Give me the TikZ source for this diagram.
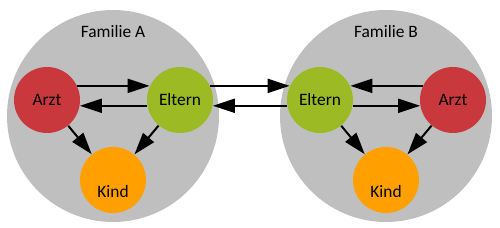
\documentclass[tikz,border=0pt]{standalone}
\usepackage{fontspec}
\setmainfont{Carlito}
\usetikzlibrary{arrows.meta}
\definecolor{famgray}{HTML}{BFBFBF}
\definecolor{arztred}{HTML}{C8383C}
\definecolor{elterngreen}{HTML}{9CBA24}
\definecolor{kindorange}{HTML}{FFA000}
\tikzset{
  fam/.style={circle, fill=famgray, minimum size=106pt, inner sep=0pt},
  person/.style={circle, minimum size=33pt, inner sep=0pt, font=\fontsize{8.7}{10}\selectfont},
  arzt/.style={person, fill=arztred},
  eltern/.style={person, fill=elterngreen},
  kind/.style={person, fill=kindorange},
  famlabel/.style={font=\fontsize{8.7}{10}\selectfont, inner sep=0pt},
  conn/.style={line width=1pt, -{Triangle[length=11pt,width=7pt]}}
}
\begin{document}
\begin{tikzpicture}[x=0.5pt, y=-0.5pt]
\useasboundingbox (0,0) rectangle (500,228);
% families
\node[fam] (famA) at (113,116) {};
\node[fam] (famB) at (386,116) {};
\node[famlabel] (labA) at (113,32) {Familie A};
\node[famlabel] (labB) at (386,32) {Familie B};
% persons A
\node[arzt] (arztA) at (47,100) {Arzt};
\node[eltern] (eltA) at (180,100) {Eltern};
\node[kind, label={[font=\fontsize{8.7}{10}\selectfont, yshift=-6pt]center:Kind}] (kindA) at (113,180) {};
% persons B
\node[eltern] (eltB) at (320,100) {Eltern};
\node[arzt] (arztB) at (453,100) {Arzt};
\node[kind, label={[font=\fontsize{8.7}{10}\selectfont, yshift=-6pt]center:Kind}] (kindB) at (386,180) {};
% arrows family A
\draw[conn] (arztA.25) -- (eltA.155);
\draw[conn] (eltA.190) -- (arztA.-10);
\draw[conn] (arztA) -- (kindA);
\draw[conn] (eltA) -- (kindA);
% arrows between families
\draw[conn] (eltA.25) -- (eltB.155);
\draw[conn] (eltB.190) -- (eltA.-10);
% arrows family B
\draw[conn] (arztB.155) -- (eltB.25);
\draw[conn] (eltB.-10) -- (arztB.190);
\draw[conn] (eltB) -- (kindB);
\draw[conn] (arztB) -- (kindB);
\end{tikzpicture}
\end{document}
